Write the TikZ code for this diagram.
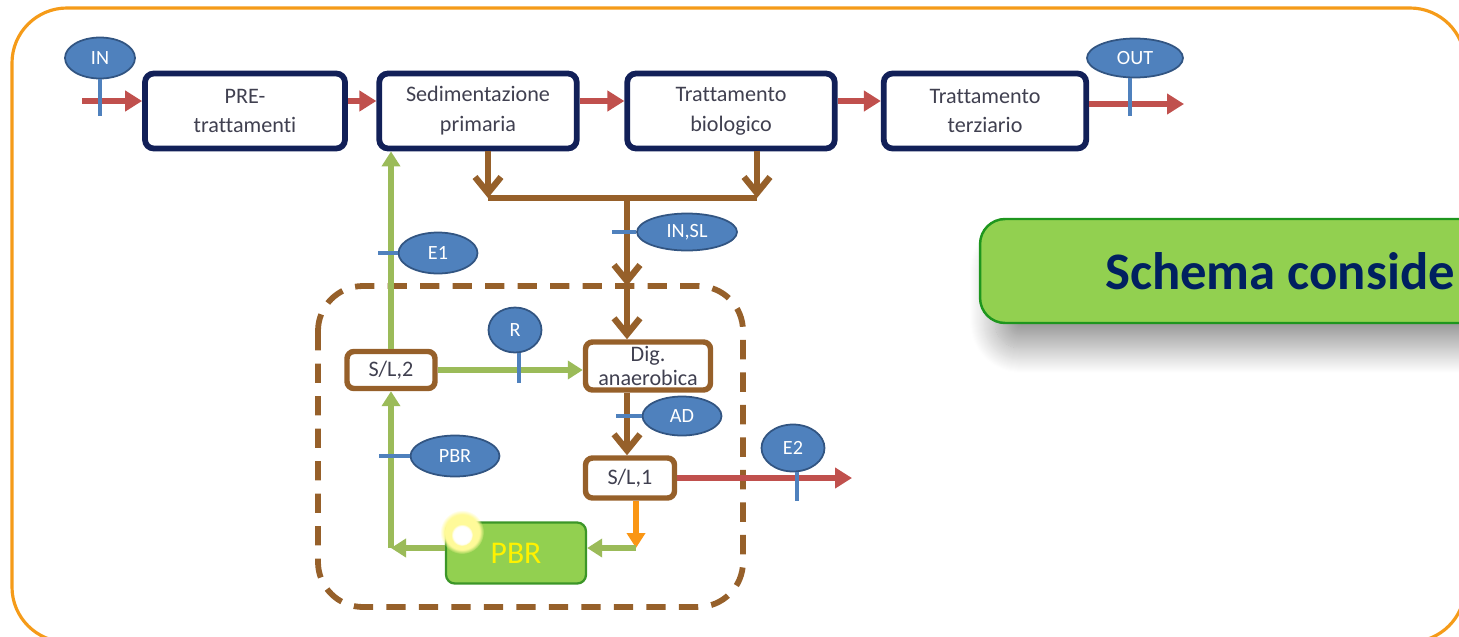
\documentclass[tikz,border=0pt]{standalone}
\usepackage{fontspec}
\setmainfont{Carlito}[Ligatures=NoCommon]
\usepackage{xcolor}
\usetikzlibrary{arrows.meta,shapes.geometric,shadows.blur,fadings}

\definecolor{navy}{RGB}{18,32,88}
\definecolor{boxtext}{RGB}{64,64,80}
\definecolor{arrowred}{RGB}{192,80,77}
\definecolor{tagfill}{RGB}{79,129,189}
\definecolor{tagedge}{RGB}{50,85,130}
\definecolor{pipebrown}{RGB}{150,96,42}
\definecolor{leafgreen}{RGB}{155,187,89}
\definecolor{pumporange}{RGB}{250,150,20}
\definecolor{pbrfill}{RGB}{146,208,80}
\definecolor{pbredge}{RGB}{60,150,40}
\definecolor{schemaedge}{RGB}{30,150,30}
\definecolor{schematext}{RGB}{0,32,96}
\definecolor{framecol}{RGB}{245,155,25}

\begin{document}
\begin{tikzpicture}[x=0.02cm,y=-0.02cm,
  box/.style={draw=navy,line width=3.3pt,rounded corners=5pt,fill=white,align=center,text=boxtext,font=\fontsize{12.6}{17}\selectfont,inner sep=0pt},
  unitbox/.style={draw=pipebrown,line width=3.1pt,rounded corners=4pt,fill=white,align=center,text=boxtext,font=\fontsize{12.6}{14}\selectfont,inner sep=0pt},
  tag/.style={ellipse,draw=tagedge,line width=1pt,fill=tagfill,text=white,font=\fontsize{11.5}{11.5}\selectfont,inner sep=0pt},
  tick/.style={draw=tagfill,line width=2.8pt},
  redarrow/.style={draw=arrowred,line width=3.3pt,-{Triangle[length=0.34cm,width=0.4cm]}},
  greenarrow/.style={draw=leafgreen,line width=3.1pt,-{Triangle[length=0.3cm,width=0.36cm]}},
  orangearrow/.style={draw=pumporange,line width=3.1pt,-{Triangle[length=0.3cm,width=0.36cm]}},
  brownarrow/.style={draw=pipebrown,line width=3.6pt,-{Straight Barb[length=0.32cm,width=0.52cm]}},
  brownpipe/.style={draw=pipebrown,line width=3.6pt}]
  \useasboundingbox (0,0) rectangle (1459,636);
  \clip (0,0) rectangle (1459,636);

  \draw[framecol,line width=1.8pt,rounded corners=1.1cm] (12,8) rectangle (1465,642);
  \draw[pipebrown,line width=3.3pt,dash pattern=on 11pt off 7.5pt,rounded corners=0.9cm] (318,286) rectangle (743,607);

  \node[box,minimum width=4cm,minimum height=1.5cm] (pre) at (245,111) {PRE-\\trattamenti};
  \node[box,minimum width=3.95cm,minimum height=1.5cm] (sed) at (478,111) {Sedimentazione\\primaria};
  \node[box,minimum width=4.15cm,minimum height=1.5cm] (bio) at (731,111) {Trattamento\\biologico};
  \node[box,minimum width=4.05cm,minimum height=1.5cm] (ter) at (985,111) {Trattamento\\terziario};

  \node[unitbox,minimum width=1.76cm,minimum height=0.74cm] (sl2) at (391,370) {S/L,2};
  \node[unitbox,minimum width=2.5cm,minimum height=0.96cm] (dig) at (648,366) {Dig.\\anaerobica};
  \node[unitbox,minimum width=1.78cm,minimum height=0.8cm] (sl1) at (630,478) {S/L,1};
  \node[draw=pbredge,line width=1.3pt,rounded corners=5pt,fill=pbrfill,text=yellow,font=\fontsize{18}{18}\selectfont,minimum width=2.8cm,minimum height=1.22cm] (pbr) at (516,553) {PBR};
  \fill[yellow!40,path fading=circle with fuzzy edge 20 percent] (462,532) circle (22);
  \fill[white,path fading=circle with fuzzy edge 20 percent] (462,535) circle (11);

  \coordinate (inpt) at (82,101);
  \coordinate (outpt) at (1184,104);
  \coordinate (e2pt) at (852,478);
  \coordinate (jl) at (488,198);
  \coordinate (jr) at (757,198);
  \coordinate (jm) at (627,198);
  \coordinate (jd) at (627,286);
  \coordinate (cr) at (636,548);
  \coordinate (cl) at (391,548);

  \draw[redarrow] (inpt) -- ([yshift=2mm]pre.west);
  \draw[redarrow] ([yshift=2mm]pre.east) -- ([yshift=2mm]sed.west);
  \draw[redarrow] ([yshift=2mm]sed.east) -- ([yshift=2mm]bio.west);
  \draw[redarrow] ([yshift=2mm]bio.east) -- ([yshift=2mm]ter.west);
  \draw[redarrow] ([yshift=1.4mm]ter.east) -- (outpt);
  \draw[redarrow] (sl1.east) -- (e2pt);

  \draw[brownarrow] (sed.south -| jl) -- (jl);
  \draw[brownarrow] (bio.south -| jr) -- (jr);
  \draw[brownpipe] (jl) -- (jr);
  \draw[brownarrow] (jm) -- (jd);
  \draw[brownarrow] (jd) -- (dig.north -| jd);
  \draw[brownarrow] (dig.south -| jd) -- (sl1.north -| jd);

  \draw[greenarrow] (sl2.north) -- (sed.south -| sl2.north);
  \draw[greenarrow] (sl2.east) -- (dig.west |- sl2.east);
  \draw[orangearrow] (sl1.south -| cr) -- (cr);
  \draw[greenarrow] (cr) -- (pbr.east |- cr);
  \draw[greenarrow] (pbr.west |- cl) -- (cl);
  \draw[greenarrow] (cl) -- (sl2.south);

  \node[tag,minimum width=1.4cm,minimum height=0.82cm] (tin) at (100,58) {IN};
  \node[tag,minimum width=1.92cm,minimum height=0.78cm] (tout) at (1135,58) {OUT};
  \node[tag,minimum width=2cm,minimum height=0.74cm] (tinsl) at (687,232) {IN,SL};
  \node[tag,minimum width=1.58cm,minimum height=0.82cm] (te1) at (438,253) {E1};
  \node[tag,minimum width=1.06cm,minimum height=0.9cm] (tr) at (515,330) {R};
  \node[tag,minimum width=1.58cm,minimum height=0.78cm] (tad) at (682,416) {AD};
  \node[tag,minimum width=1.26cm,minimum height=0.94cm] (te2) at (793,448) {E2};
  \node[tag,minimum width=1.78cm,minimum height=0.82cm] (tpbr) at (455,456) {PBR};

  \draw[tick] (tin.south) -- ++(0,37);
  \draw[tick] ([xshift=-1mm]tout.south) -- ++(0,38);
  \draw[tick] (tinsl.west) -- ++(-24,0);
  \draw[tick] (te1.west) -- ++(-20,0);
  \draw[tick] ([xshift=0.8mm]tr.south) -- ++(0,30);
  \draw[tick] (tad.west) -- ++(-26,0);
  \draw[tick] ([xshift=0.8mm]te2.south) -- ++(0,29);
  \draw[tick] (tpbr.west) -- ++(-31,0);

  \node[draw=schemaedge,line width=1.4pt,rounded corners=0.5cm,fill=pbrfill,text=schematext,font=\fontsize{30}{36}\selectfont\bfseries,minimum width=12cm,minimum height=2.08cm,blur shadow={shadow xshift=0.3cm,shadow yshift=-0.5cm,shadow blur radius=0.5cm,shadow blur steps=25,shadow opacity=40}] (schema) at (1280,271) {Schema conside};
\end{tikzpicture}
\end{document}
